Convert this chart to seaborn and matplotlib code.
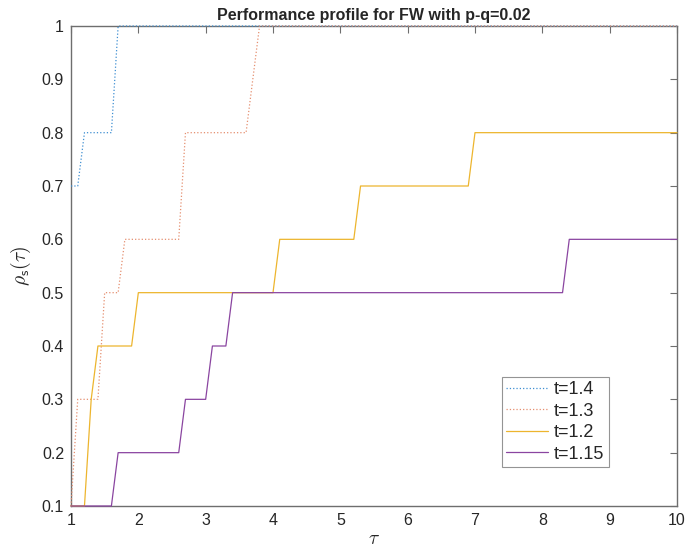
import matplotlib
matplotlib.use("Agg")
import matplotlib.pyplot as plt
import seaborn as sns
import pandas as pd

# Performance profile knots (tau, rho) for each step parameter t
tau_t140 = [1.0, 1.1, 1.2, 1.6, 1.7, 10.0]
rho_t140 = [0.7, 0.7, 0.8, 0.8, 1.0, 1.0]

tau_t130 = [1.0, 1.1, 1.4, 1.5, 1.7, 1.8, 2.6, 2.7, 3.6, 3.7, 3.8, 10.0]
rho_t130 = [0.1, 0.3, 0.3, 0.5, 0.5, 0.6, 0.6, 0.8, 0.8, 0.9, 1.0, 1.0]

tau_t120 = [1.0, 1.2, 1.3, 1.4, 1.9, 2.0, 4.0, 4.1, 5.2, 5.3, 6.9, 7.0, 10.0]
rho_t120 = [0.1, 0.1, 0.3, 0.4, 0.4, 0.5, 0.5, 0.6, 0.6, 0.7, 0.7, 0.8, 0.8]

tau_t115 = [1.0, 1.6, 1.7, 2.6, 2.7, 3.0, 3.1, 3.3, 3.4, 8.3, 8.4, 10.0]
rho_t115 = [0.1, 0.1, 0.2, 0.2, 0.3, 0.3, 0.4, 0.4, 0.5, 0.5, 0.6, 0.6]

series_labels = ["t=1.4", "t=1.3", "t=1.2", "t=1.15"]
x_ticks = [1, 2, 3, 4, 5, 6, 7, 8, 9, 10]
y_ticks = [0.1, 0.2, 0.3, 0.4, 0.5, 0.6, 0.7, 0.8, 0.9, 1.0]
y_tick_labels = ["0.1", "0.2", "0.3", "0.4", "0.5", "0.6", "0.7", "0.8", "0.9", "1"]

sns.set_style("white")
plt.rcParams["font.family"] = ["Liberation Sans", "DejaVu Sans"]
plt.rcParams["mathtext.fontset"] = "cm"

fig = plt.figure(figsize=(6.85, 5.52), dpi=100)
ax = fig.add_axes([71 / 685, 1 - 506 / 552, 606 / 685, 480 / 552])

styles = [
    ("#3f8fd2", ":"),
    ("#e58f70", ":"),
    ("#edb52e", "-"),
    ("#8a45a0", "-"),
]
data = [(tau_t140, rho_t140), (tau_t130, rho_t130),
        (tau_t120, rho_t120), (tau_t115, rho_t115)]

for (tau, rho), label, (col, ls) in zip(data, series_labels, styles):
    df = pd.DataFrame({"tau": tau, "rho": rho})
    sns.lineplot(data=df, x="tau", y="rho", ax=ax, color=col,
                 linestyle=ls, linewidth=0.9, estimator=None,
                 sort=False, label=label, zorder=3, clip_on=False)

ax.set_xlim(1, 10)
ax.set_ylim(0.1, 1.0)
ax.set_xticks(x_ticks)
ax.set_xticklabels([str(v) for v in x_ticks])
ax.set_yticks(y_ticks)
ax.set_yticklabels(y_tick_labels)

edge = "#6e6e6e"
for sp in ax.spines.values():
    sp.set_visible(True)
    sp.set_color(edge)
    sp.set_linewidth(1.0)
    sp.set_zorder(2)
ax.tick_params(direction="in", length=5, width=0.8, color=edge,
               top=True, right=True, labelsize=11.5, labelcolor="#262626",
               pad=5)

ax.set_title("Performance profile for FW with p-q=0.02", fontsize=11.5,
             fontweight="bold", pad=4)
ax.set_xlabel(r"$\tau$", fontsize=14, labelpad=2)
ax.set_ylabel(r"$\rho_{\mathsf{s}}(\tau)$", fontsize=14, labelpad=6)

leg = ax.legend(loc="lower left", bbox_to_anchor=(0.711, 0.081),
                frameon=True, fontsize=13, fancybox=False,
                handlelength=2.3, borderpad=0.25, labelspacing=0.25,
                handletextpad=0.35, borderaxespad=0)
leg.get_frame().set_edgecolor("#7a7a7a")
leg.get_frame().set_linewidth(0.8)
leg.set_zorder(5)

fig.savefig("out.png", dpi=100)
